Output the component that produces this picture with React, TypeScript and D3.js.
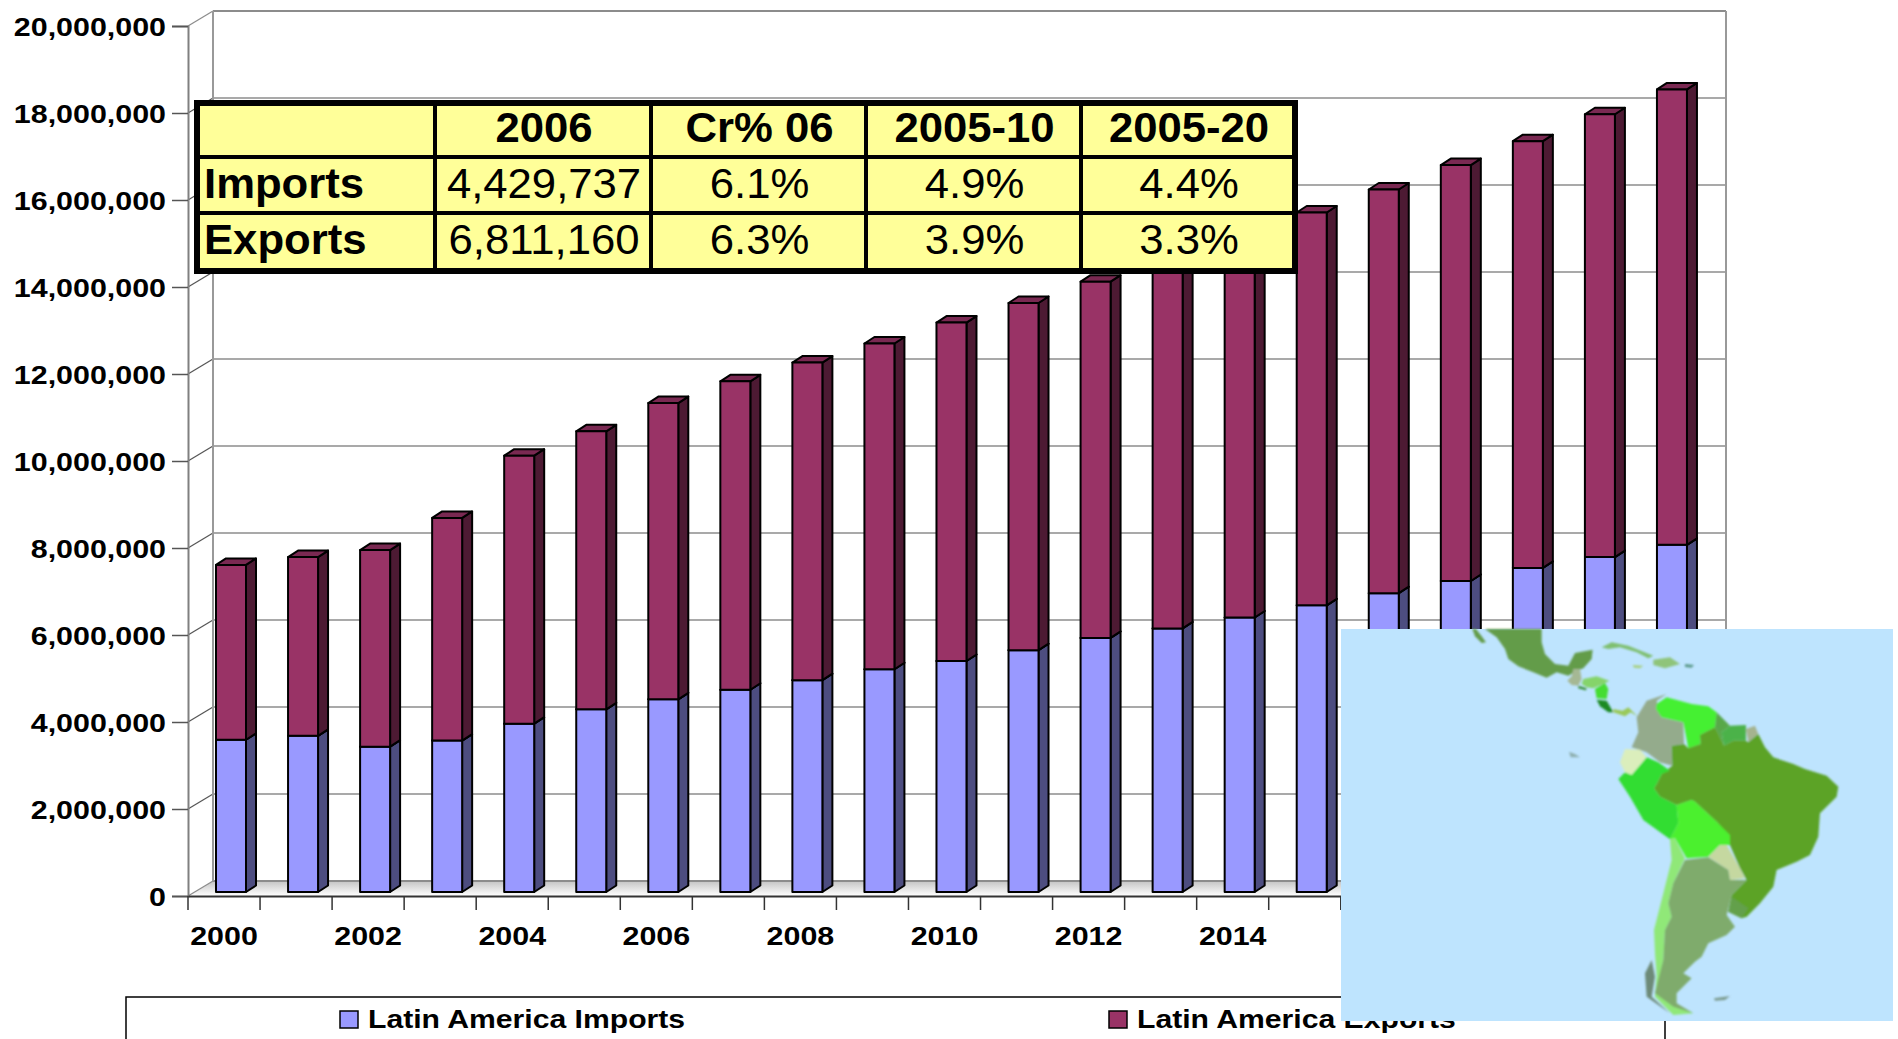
import React, { useEffect, useRef } from "react";
import * as d3 from "d3";

const years = d3.range(2000, 2021).map(String);
const imports = [3.5, 3.59, 3.34, 3.48, 3.87, 4.2, 4.43, 4.65, 4.87, 5.12, 5.31, 5.56, 5.84, 6.06, 6.31, 6.59, 6.87, 7.15, 7.45, 7.7, 7.98];
const exportsM = [4.02, 4.11, 4.52, 5.12, 6.16, 6.39, 6.81, 7.09, 7.3, 7.49, 7.78, 7.98, 8.19, 8.39, 8.64, 9.03, 9.28, 9.56, 9.81, 10.18, 10.47];
const yTicks = d3.range(0, 21000000, 2000000);
const seriesNames = ["Latin America Imports", "Latin America Exports"];
const tableHeader = ["", "2006", "Cr% 06", "2005-10", "2005-20"];
const tableRows = [
  ["Imports", "4,429,737", "6.1%", "4.9%", "4.4%"],
  ["Exports", "6,811,160", "6.3%", "3.9%", "3.3%"],
];

// map outlines (3 units = 1px)
type Shape = [string, [number, number][]];
const mapShapes: Shape[] = [
  ["#649c48", [[135,0],[305,0],[305,40],[315,75],[345,105],[385,110],[405,72],[458,62],[455,90],[430,118],[410,125],[385,140],[350,130],[320,146],[280,130],[235,112],[205,90],[195,60],[170,25]]],
  ["#649c48", [[97,0],[108,0],[125,22],[138,40],[125,42],[105,22]]],
  ["#a5b894", [[400,120],[420,120],[425,150],[415,170],[395,168],[382,155],[395,142]]],
  ["#85d46a", [[430,150],[470,142],[508,155],[490,165],[460,178],[440,175],[425,165]]],
  ["#44dd33", [[465,180],[495,162],[505,180],[500,210],[470,208]]],
  ["#2f8a2a", [[415,170],[440,178],[438,184],[415,178]]],
  ["#1d8a22", [[470,212],[500,215],[520,250],[505,250],[480,232]]],
  ["#9ac95a", [[520,240],[548,245],[565,235],[592,262],[572,250],[555,262],[520,250]]],
  ["#94ab8c", [[680,195],[650,215],[665,265],[730,280],[732,345],[695,350],[697,410],[660,400],[620,370],[575,355],[595,310],[590,265],[620,215]]],
  ["#44f033", [[650,225],[680,205],[755,225],[805,232],[830,250],[825,295],[780,318],[782,345],[745,358],[730,280],[665,265],[648,240]]],
  ["#58a848", [[830,250],[870,290],[845,310],[852,350],[825,295]]],
  ["#4cb24a", [[870,290],[918,288],[918,335],[880,335],[852,350],[845,310]]],
  ["#a5b38f", [[918,300],[945,290],[955,315],[925,340]]],
  ["#5ba325", [[695,350],[732,345],[745,358],[782,345],[780,318],[825,295],[852,350],[880,335],[918,335],[925,340],[955,315],[975,355],[1000,385],[1060,405],[1095,420],[1160,440],[1195,473],[1190,503],[1140,553],[1135,623],[1110,678],[1070,698],[1010,723],[1000,773],[960,823],[920,863],[905,868],[865,848],[875,798],[920,753],[900,718],[870,648],[865,618],[830,578],[765,518],[755,513],[710,528],[660,503],[642,478],[650,465],[665,435],[697,410]]],
  ["#64a04c", [[875,803],[925,838],[905,868],[865,848]]],
  ["#dbeebc", [[555,360],[600,362],[620,385],[575,438],[555,430],[540,400]]],
  ["#33dd33", [[620,385],[655,400],[690,425],[665,435],[650,465],[642,478],[660,503],[710,528],[715,583],[690,631],[610,573],[570,503],[535,450],[555,430],[575,438]]],
  ["#4cf02f", [[755,513],[765,518],[830,578],[870,618],[870,648],[840,648],[805,683],[740,688],[705,628],[690,631],[715,583],[710,528]]],
  ["#c5d8a0", [[840,648],[860,648],[900,718],[915,748],[870,753],[865,723],[805,683]]],
  ["#6d8a78", [[635,993],[645,1043],[635,1103],[690,1153],[620,1103],[615,1033]]],
  ["#90e878", [[690,631],[705,628],[735,688],[700,763],[685,823],[695,863],[675,903],[670,993],[655,1068],[720,1133],[760,1153],[700,1158],[645,1103],[650,1040],[645,973],[642,903],[675,773],[695,693]]],
  ["#7fab6c", [[735,693],[805,685],[865,723],[870,753],[920,753],[875,798],[860,858],[885,893],[860,918],[805,943],[785,983],[765,998],[730,1033],[755,1048],[710,1093],[710,1123],[760,1153],[700,1133],[645,1093],[670,993],[675,903],[695,863],[685,823],[700,763]]],
  ["#7fbf70", [[485,55],[515,40],[565,50],[640,80],[625,88],[590,70],[540,55],[505,60]]],
  ["#8fc47a", [[640,92],[690,85],[720,105],[675,118],[640,108]]],
  ["#a8d080", [[578,108],[610,110],[600,118],[582,116]]],
  ["#5c9a8a", [[735,105],[762,108],[755,116],[735,114]]],
  ["#8fb0b0", [[387,368],[405,375],[420,385],[392,385]]],
  ["#7d9c90", [[822,1108],[870,1101],[855,1113],[825,1115]]],
];

const FONT = "'Liberation Sans', Arial, sans-serif";
const DX = 25, DY = -15; // depth of the chart box
const BAR_DX = 10, BAR_DY = -6.5;

export default function App() {
  const ref = useRef<SVGSVGElement>(null);

  useEffect(() => {
    const svg = d3.select(ref.current);
    svg.selectAll("*").remove();

    const x = d3.scaleBand().domain(years).range([188, 1701]);
    const y = d3.scaleLinear().domain([0, 20000000]).range([896, 26]);
    const barY = (v: number) => y(v) - 4;
    const barW = 30;
    const barX = (yr: string) => (x(yr) as number) + 28;

    const defs = svg.append("defs");
    const grad = defs.append("linearGradient").attr("id", "floor").attr("x1", 0).attr("x2", 0).attr("y1", 0).attr("y2", 1);
    grad.append("stop").attr("offset", "0%").attr("stop-color", "#c4c4c4");
    grad.append("stop").attr("offset", "100%").attr("stop-color", "#ffffff");
    defs.append("filter").attr("id", "soft").append("feGaussianBlur").attr("stdDeviation", 2.5);

    // walls and floor
    svg.append("path")
      .attr("d", `M188,896L${188 + DX},${896 + DY}L${1701 + DX},${896 + DY}L1701,896Z`)
      .attr("fill", "url(#floor)");
    const grid = svg.append("g");
    yTicks.forEach((t) => {
      const edge = t === 20000000 || t === 0;
      grid.append("line").attr("x1", 188).attr("x2", 188 + DX).attr("y1", y(t)).attr("y2", y(t) + DY)
        .attr("stroke", edge ? "#8c8c8c" : "#555").attr("stroke-width", 1.2);
      grid.append("line").attr("x1", 188 + DX).attr("x2", 1701 + DX).attr("y1", y(t) + DY).attr("y2", y(t) + DY)
        .attr("stroke", edge ? "#8c8c8c" : "#555").attr("stroke-width", edge ? 2 : 1.2);
    });
    [188 + DX, 1701 + DX].forEach((wx) => {
      svg.append("line").attr("x1", wx).attr("x2", wx).attr("y1", y(20000000) + DY).attr("y2", y(0) + DY)
        .attr("stroke", "#999").attr("stroke-width", 2);
    });

    // stacked 3d bars
    const rows = years.map((yr, i) => ({ year: yr, imp: imports[i] * 1e6, exp: exportsM[i] * 1e6 }));
    const stacked = d3.stack<any>().keys(["imp", "exp"])(rows);
    const colors = [
      { front: "#9999ff", side: "#4d4d80", top: "#7a7acc" },
      { front: "#993366", side: "#4d1a33", top: "#7a2952" },
    ];
    const bars = svg.append("g").attr("stroke", "#000").attr("stroke-width", 2).attr("stroke-linejoin", "round");
    years.forEach((yr, i) => {
      const bx = barX(yr);
      stacked.forEach((s, k) => {
        const y0 = barY(s[i][0]), y1 = barY(s[i][1]);
        const c = colors[k];
        bars.append("path").attr("fill", c.side)
          .attr("d", `M${bx + barW},${y0}L${bx + barW + BAR_DX},${y0 + BAR_DY}L${bx + barW + BAR_DX},${y1 + BAR_DY}L${bx + barW},${y1}Z`);
        bars.append("path").attr("fill", c.top)
          .attr("d", `M${bx},${y1}L${bx + BAR_DX},${y1 + BAR_DY}L${bx + barW + BAR_DX},${y1 + BAR_DY}L${bx + barW},${y1}Z`);
        bars.append("rect").attr("x", bx).attr("y", y1).attr("width", barW).attr("height", y0 - y1).attr("fill", c.front);
      });
    });

    // axes
    const yAxis = d3.axisLeft(y).tickValues(yTicks).tickSize(16).tickPadding(0).tickFormat((d) => d3.format(",")(d as number));
    const gy = svg.append("g").attr("transform", "translate(188,0)").call(yAxis);
    gy.select(".domain").attr("stroke", "#808080").attr("stroke-width", 2);
    gy.selectAll(".tick line").attr("stroke", "#555").attr("stroke-width", 1.5);
    gy.selectAll(".tick text")
      .attr("x", 0).attr("dy", null).attr("y", 0)
      .attr("transform", "translate(-22,9) scale(1.17,1)")
      .attr("text-anchor", "end").attr("fill", "#000")
      .style("font", `bold 26px ${FONT}`);

    const xAxis = d3.axisBottom(x).tickValues(years.filter((_, i) => i % 2 === 0)).tickSize(0).tickPadding(0);
    const gx = svg.append("g").attr("transform", "translate(0,896)").call(xAxis);
    gx.select(".domain").attr("stroke", "#333").attr("stroke-width", 2);
    gx.selectAll(".tick line").remove();
    gx.selectAll(".tick text")
      .attr("y", 0).attr("dy", null)
      .attr("transform", "translate(0,49) scale(1.17,1)")
      .attr("fill", "#000")
      .style("font", `bold 26px ${FONT}`);
    years.concat("end").forEach((yr, i) => {
      const tx = i < years.length ? (x(yr) as number) : 1701;
      svg.append("line").attr("x1", tx).attr("x2", tx).attr("y1", 896).attr("y2", 910)
        .attr("stroke", "#333").attr("stroke-width", 1.5);
    });

    // legend
    const legend = svg.append("g");
    legend.append("path").attr("d", "M126,1039V997H1665V1039").attr("fill", "#fff").attr("stroke", "#000").attr("stroke-width", 1.5);
    [340, 1109].forEach((lx, i) => {
      legend.append("rect").attr("x", lx).attr("y", 1011).attr("width", 18).attr("height", 17)
        .attr("fill", colors[i].front).attr("stroke", "#000").attr("stroke-width", 1.5);
      legend.append("text").text(seriesNames[i])
        .attr("transform", `translate(${lx + 28},1028) scale(1.16,1)`)
        .style("font", `bold 26px ${FONT}`);
    });

    // summary table
    const cols = [196, 435, 651, 866, 1081, 1295];
    const lines = [102, 157, 213, 271];
    const table = svg.append("g");
    table.append("rect").attr("x", 197).attr("y", 103).attr("width", 1098).attr("height", 168)
      .attr("fill", "#ffff99").attr("stroke", "#000").attr("stroke-width", 6);
    lines.slice(1, 3).forEach((ly) => {
      table.append("line").attr("x1", 197).attr("x2", 1295).attr("y1", ly).attr("y2", ly).attr("stroke", "#000").attr("stroke-width", 4);
    });
    cols.slice(1, 5).forEach((cx) => {
      table.append("line").attr("x1", cx).attr("x2", cx).attr("y1", 103).attr("y2", 271).attr("stroke", "#000").attr("stroke-width", 4);
    });
    [tableHeader, ...tableRows].forEach((row, r) => {
      row.forEach((cell, c) => {
        if (!cell) return;
        const left = c === 0;
        const tx = left ? 204 : (cols[c] + cols[c + 1]) / 2 + 1;
        table.append("text").text(cell)
          .attr("transform", `translate(${tx},${[142, 198, 254][r]}) scale(1.04,1)`)
          .attr("text-anchor", left ? "start" : "middle")
          .style("font", `${r === 0 || c === 0 ? "bold" : "normal"} 42px ${FONT}`);
      });
    });

    // map inset
    const map = svg.append("g");
    map.append("rect").attr("x", 1341).attr("y", 629).attr("width", 552).attr("height", 392).attr("fill", "#bee4fe");
    const line = d3.line().curve(d3.curveLinearClosed);
    const land = map.append("g").attr("transform", "translate(1440,629) scale(0.3333)").attr("filter", "url(#soft)");
    mapShapes.forEach(([fill, pts]) => {
      land.append("path").attr("d", line(pts)).attr("fill", fill);
    });
  }, []);

  return (
    <svg ref={ref} width={1898} height={1039} style={{ position: "absolute", left: 0, top: 0, background: "#fff" }} />
  );
}
